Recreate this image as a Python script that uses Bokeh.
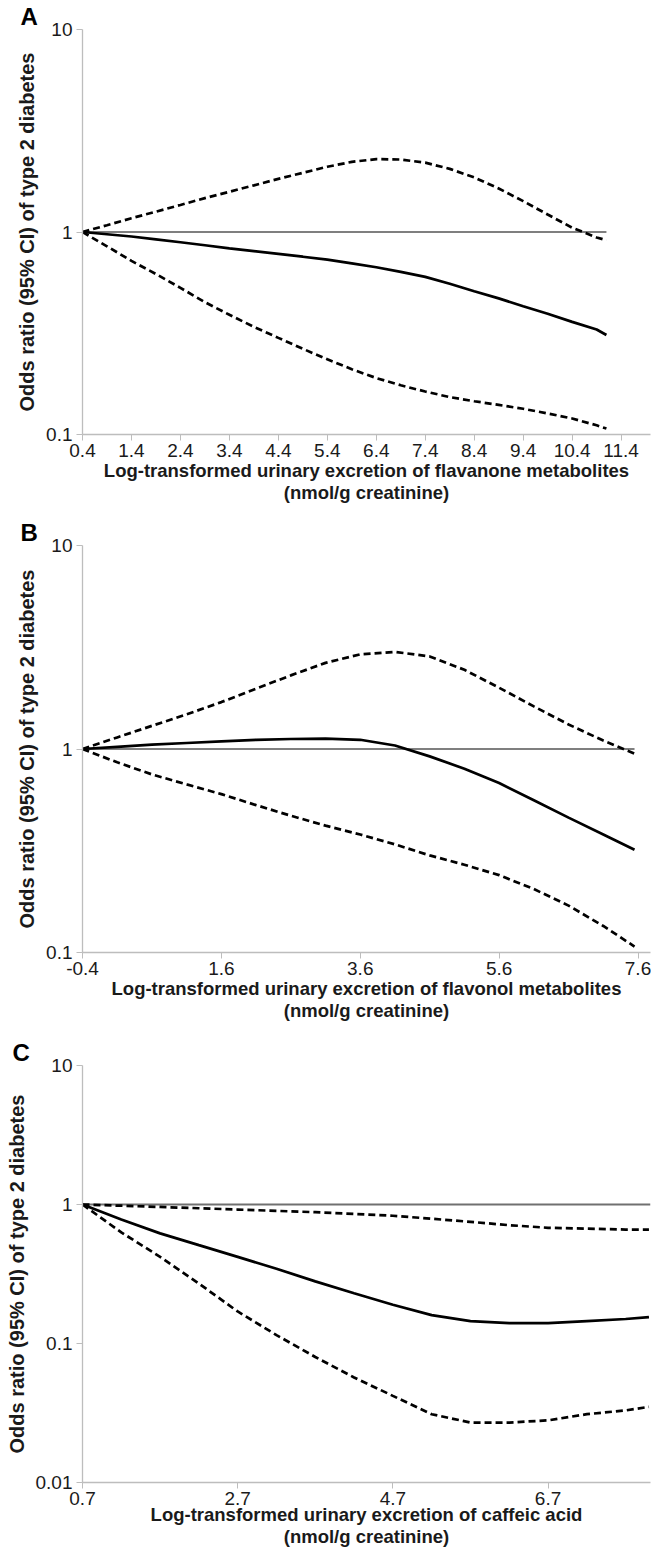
from bokeh.plotting import figure
from bokeh.layouts import column
from bokeh.models import FixedTicker, Range1d
from bokeh.embed import file_html
from bokeh.resources import INLINE

# ---------------- data ----------------
# Panel A: flavanone metabolites
a_x = [0.4, 0.9, 1.4, 1.9, 2.4, 2.9, 3.4, 3.9, 4.4, 4.9, 5.4, 5.9, 6.4, 6.9, 7.4,
       7.9, 8.4, 8.9, 9.4, 9.9, 10.4, 10.9, 11.1]
a_hi = [1.0, 1.08, 1.17, 1.26, 1.36, 1.47, 1.58, 1.70, 1.83, 1.96, 2.10, 2.22, 2.29,
        2.28, 2.20, 2.05, 1.86, 1.64, 1.42, 1.22, 1.05, 0.94, 0.91]
a_or = [1.0, 0.975, 0.95, 0.92, 0.89, 0.86, 0.83, 0.805, 0.78, 0.755, 0.73, 0.70, 0.67,
        0.635, 0.60, 0.555, 0.51, 0.47, 0.43, 0.395, 0.36, 0.33, 0.31]
a_lo = [1.0, 0.85, 0.72, 0.62, 0.53, 0.45, 0.39, 0.34, 0.30, 0.265, 0.235, 0.21, 0.19,
        0.175, 0.163, 0.153, 0.146, 0.14, 0.134, 0.127, 0.12, 0.111, 0.107]
a_ticks = [0.4, 1.4, 2.4, 3.4, 4.4, 5.4, 6.4, 7.4, 8.4, 9.4, 10.4, 11.4]

# Panel B: flavonol metabolites
b_x = [-0.4, 0.1, 0.6, 1.1, 1.6, 2.1, 2.6, 3.1, 3.6, 4.1, 4.6, 5.1, 5.6, 6.1, 6.6, 7.1, 7.55]
b_hi = [1.0, 1.14, 1.30, 1.48, 1.70, 1.98, 2.30, 2.65, 2.92, 3.0, 2.85, 2.45, 2.0, 1.62,
        1.32, 1.10, 0.95]
b_or = [1.0, 1.025, 1.05, 1.07, 1.09, 1.11, 1.12, 1.125, 1.11, 1.04, 0.92, 0.80, 0.68,
        0.56, 0.46, 0.38, 0.32]
b_lo = [1.0, 0.86, 0.75, 0.67, 0.60, 0.53, 0.47, 0.42, 0.38, 0.34, 0.30, 0.27, 0.24,
        0.205, 0.17, 0.135, 0.107]
b_ticks = [-0.4, 1.6, 3.6, 5.6, 7.6]

# Panel C: caffeic acid
c_x = [0.7, 1.2, 1.7, 2.2, 2.7, 3.2, 3.7, 4.2, 4.7, 5.2, 5.7, 6.2, 6.7, 7.2, 7.7, 8.0]
c_hi = [1.0, 0.98, 0.96, 0.94, 0.92, 0.90, 0.88, 0.855, 0.83, 0.79, 0.75, 0.71, 0.68,
        0.67, 0.66, 0.66]
c_or = [1.0, 0.78, 0.62, 0.51, 0.42, 0.345, 0.28, 0.23, 0.19, 0.16, 0.145, 0.14, 0.14,
        0.145, 0.15, 0.155]
c_lo = [1.0, 0.63, 0.42, 0.27, 0.17, 0.115, 0.08, 0.057, 0.042, 0.031, 0.027, 0.027,
        0.028, 0.031, 0.033, 0.035]
c_ticks = [0.7, 2.7, 4.7, 6.7]

Y_TITLE = "Odds ratio (95% CI) of type 2 diabetes"
TICK_FONT = "Liberation Sans Narrow, Arial Narrow, Liberation Sans"
BOLD_FONT = "Liberation Sans, Arial"


def panel(letter, xs, mid, hi, lo, ref_x, xticks, xr, yr, yticks, xtitle,
          height, top, bottom, left, ref_color, ref_width, title_standoff):
    p = figure(width=651, height=height, x_range=Range1d(*xr), y_range=Range1d(*yr),
               y_axis_type="log", output_backend="svg", toolbar_location=None,
               min_border_left=left, min_border_right=1, min_border_top=top,
               min_border_bottom=bottom)
    p.outline_line_color = None
    p.xgrid.visible = False
    p.ygrid.visible = False
    p.background_fill_color = "white"
    p.border_fill_color = "white"

    # panel letter, as the figure title pushed to the left edge
    p.title.text = letter
    p.title.align = "left"
    p.title.offset = -(left - 12)
    p.title.standoff = 0
    p.title.text_font = BOLD_FONT
    p.title.text_font_style = "bold"
    p.title.text_font_size = "24px"
    p.title.text_color = "black"
    p.title.text_line_height = 0.7

    for ax in (p.xaxis[0], p.yaxis[0]):
        ax.axis_line_color = "#bdbdbd"
        ax.axis_line_width = 1.3
        ax.major_tick_line_color = "#bdbdbd"
        ax.major_tick_out = 6
        ax.major_tick_in = 0
        ax.minor_tick_line_color = None
        ax.major_label_text_font = TICK_FONT
        ax.major_label_text_font_size = "19px"
        ax.major_label_text_color = "#1a1a1a"
        ax.axis_label_text_font = BOLD_FONT
        ax.axis_label_text_font_style = "bold"
        ax.axis_label_text_color = "#1a1a1a"

    p.xaxis.ticker = FixedTicker(ticks=xticks)
    p.xaxis.major_label_overrides = {t: str(t) for t in xticks}
    p.xaxis.major_label_standoff = 3
    p.xaxis.axis_label = xtitle
    p.xaxis.axis_label_text_font_size = "18.5px"
    p.xaxis.axis_label_text_line_height = 1.05
    p.xaxis.axis_label_standoff = title_standoff

    p.yaxis.ticker = FixedTicker(ticks=yticks)
    p.yaxis.major_label_overrides = {t: ("%g" % t) for t in yticks}
    p.yaxis.major_label_standoff = 4
    p.yaxis.axis_label = Y_TITLE
    p.yaxis.axis_label_text_font_size = "20px"
    p.yaxis.axis_label_standoff = 5

    p.line(ref_x, [1, 1], line_color=ref_color, line_width=ref_width)
    p.line(xs, hi, line_color="black", line_width=2.7, line_dash="7 4")
    p.line(xs, lo, line_color="black", line_width=2.7, line_dash="7 4")
    p.line(xs, mid, line_color="black", line_width=2.7)
    return p


pa = panel("A", a_x, a_or, a_hi, a_lo, [a_x[0], a_x[-1]], a_ticks, (0.4, 12.0),
           (0.1, 10), [0.1, 1, 10],
           "Log-transformed urinary excretion of flavanone metabolites\n(nmol/g creatinine)",
           510, 24, 76, 74, "black", 1.2, 0)
pb = panel("B", b_x, b_or, b_hi, b_lo, [b_x[0], b_x[-1]], b_ticks, (-0.4, 7.78),
           (0.1, 10), [0.1, 1, 10],
           "Log-transformed urinary excretion of flavonol metabolites\n(nmol/g creatinine)",
           520, 35, 78, 74, "black", 1.2, 0)
pc = panel("C", c_x, c_or, c_hi, c_lo, [c_x[0], 8.02], c_ticks, (0.7, 8.02),
           (0.01, 10), [0.01, 0.1, 1, 10],
           "Log-transformed urinary excretion of caffeic acid\n(nmol/g creatinine)",
           519, 35, 66, 82, "#707070", 2.0, -4)

layout = column(pa, pb, pc, spacing=0)
open("out.html", "w").write(file_html(layout, INLINE))
